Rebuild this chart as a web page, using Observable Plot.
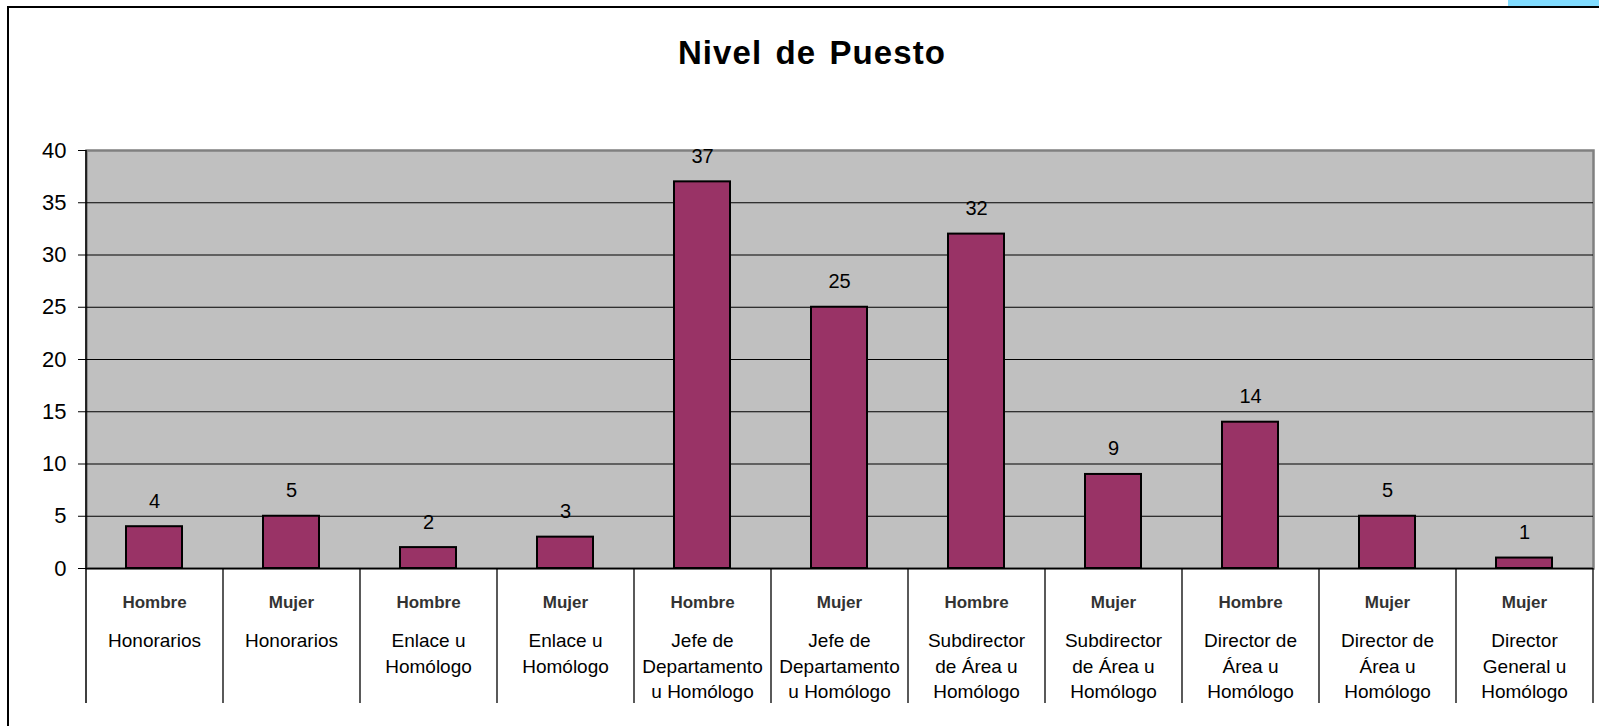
<!DOCTYPE html>
<html>
<head>
<meta charset="utf-8">
<script src="https://cdn.jsdelivr.net/npm/d3@7"></script>
<script src="https://cdn.jsdelivr.net/npm/@observablehq/plot@0.6"></script>
<style>
  html, body { margin: 0; padding: 0; background: #fff; overflow: hidden; }
  body { width: 1599px; height: 726px; position: relative; font-family: Arial, "Liberation Sans", sans-serif; }
  #frame { position: absolute; left: 7px; top: 6px; width: 1700px; height: 800px; border-left: 2px solid #000; border-top: 2px solid #000; }
  #corner { position: absolute; left: 1508px; top: 0; width: 91px; height: 6px; background: #80dcff; }
  #title { position: absolute; left: 0; top: 36px; width: 1624px; text-align: center; font-size: 33px; line-height: 33px; font-weight: bold; letter-spacing: 1.1px; word-spacing: 3px; color: #000; }
  #chart { position: absolute; left: 0; top: 0; }
</style>
</head>
<body>
<div id="frame"></div>
<div id="corner"></div>
<div id="title">Nivel de Puesto</div>
<div id="chart"></div>
<script>
// Data
const sexo = ["Hombre","Mujer","Hombre","Mujer","Hombre","Mujer","Hombre","Mujer","Hombre","Mujer","Mujer"];
const puesto = [
  "Honorarios",
  "Honorarios",
  "Enlace u\nHomólogo",
  "Enlace u\nHomólogo",
  "Jefe de\nDepartamento\nu Homólogo",
  "Jefe de\nDepartamento\nu Homólogo",
  "Subdirector\nde Área u\nHomólogo",
  "Subdirector\nde Área u\nHomólogo",
  "Director de\nÁrea u\nHomólogo",
  "Director de\nÁrea u\nHomólogo",
  "Director\nGeneral u\nHomólogo"
];
const valores = [4, 5, 2, 3, 37, 25, 32, 9, 14, 5, 1];
const yTicks = [0, 5, 10, 15, 20, 25, 30, 35, 40];

const data = valores.map((v, i) => ({key: i + "|" + sexo[i] + "|" + puesto[i], sexo: sexo[i], puesto: puesto[i], valor: v}));
const keys = data.map(d => d.key);

const W = 1599, H = 726, ML = 86, MR = 6, MT = 150, MB = 158;
const step = (W - ML - MR) / keys.length;
const below = 135;

const chart = Plot.plot({
  width: W,
  height: H,
  marginLeft: ML,
  marginRight: MR,
  marginTop: MT,
  marginBottom: MB,
  style: {fontFamily: "Arial, 'Liberation Sans', sans-serif", color: "#000", background: "transparent"},
  x: {domain: keys, paddingInner: 0.59, paddingOuter: 0.295, axis: null},
  y: {domain: [0, 40], axis: null},
  marks: [
    Plot.frame({fill: "#c0c0c0", stroke: "#808080", strokeWidth: 2.5}),
    Plot.ruleY(yTicks.filter(t => t > 0 && t < 40), {stroke: "#000", strokeWidth: 1}),
    Plot.axisY({ticks: yTicks, tickSize: 8, label: null, stroke: "#000", tickFormat: () => ""}),
    Plot.text(yTicks, {y: d => d, text: d => String(d), frameAnchor: "left", dx: -20, textAnchor: "end", fontSize: 22, letterSpacing: 1, fill: "#000"}),
    // left axis line (and leftmost separator)
    Plot.ruleX([keys[0]], {x: d => d, dx: -step / 2, stroke: "#000", strokeWidth: 1.5, insetBottom: -below}),
    // category separators below the axis
    Plot.ruleX(keys.slice(1), {x: d => d, y1: 0, y2: 0, dx: -step / 2, stroke: "#000", strokeWidth: 1.3, insetBottom: -below}),
    Plot.ruleX([keys[keys.length - 1]], {x: d => d, y1: 0, y2: 0, dx: step / 2, stroke: "#000", strokeWidth: 1.3, insetBottom: -below}),
    Plot.ruleY([0], {stroke: "#000", strokeWidth: 1.5}),
    Plot.barY(data, {x: "key", y: "valor", fill: "#993366", stroke: "#000", strokeWidth: 2}),
    Plot.text(data, {x: "key", y: "valor", text: d => String(d.valor), dy: -19, lineAnchor: "bottom", fontSize: 20, fill: "#000"}),
    Plot.text(data, {x: "key", text: "sexo", frameAnchor: "bottom", lineAnchor: "bottom", dy: 39, fontSize: 17, fontWeight: "bold", fill: "#333", letterSpacing: 0.5}),
    Plot.text(data, {x: "key", text: "puesto", frameAnchor: "bottom", lineAnchor: "top", dy: 61, fontSize: 19, lineHeight: 1.33, fill: "#000"})
  ]
});
document.getElementById("chart").appendChild(chart);
</script>
</body>
</html>
